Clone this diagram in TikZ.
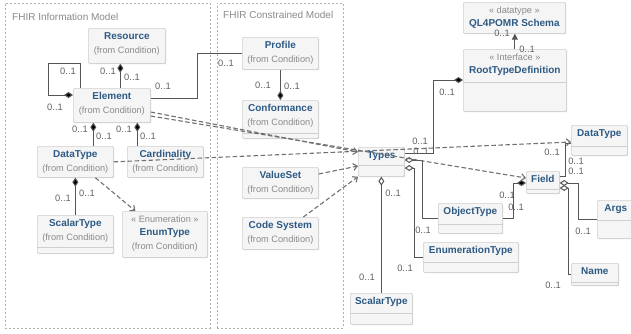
\documentclass[tikz,border=0pt]{standalone}
\usepackage{fontspec}
\setmainfont{Liberation Sans}
\usetikzlibrary{arrows.meta,shadows,calc}
\definecolor{tblue}{HTML}{2D5A84}
\definecolor{subgray}{HTML}{8A8A8A}
\definecolor{labgray}{HTML}{606060}
\definecolor{boxline}{HTML}{CFCFCF}
\definecolor{boxfill}{HTML}{F5F5F5}
\definecolor{pkgline}{HTML}{B0B0B0}
\definecolor{lnk}{HTML}{555555}
\definecolor{dlnk}{HTML}{707070}
\newcommand\tit[1]{{\fontsize{10}{13.5}\selectfont\bfseries\color{tblue}#1}}
\newcommand\frm{{\color{subgray}(from Condition)}}
\newcommand\stereo[1]{{\color{subgray}« #1 »}}
\tikzset{
  ubox/.style={draw=boxline, fill=boxfill, rounded corners=1.2pt, line width=0.7pt,
    drop shadow={shadow xshift=0.8pt, shadow yshift=-0.8pt, opacity=0.18, fill=black}, inner sep=0pt},
  utext/.style={align=center, inner sep=0pt, font=\fontsize{9.2}{13.5}\selectfont},
  divline/.style={draw=boxline, line width=0.7pt},
  pkg/.style={draw=pkgline, dash pattern=on 2pt off 2pt, line width=0.7pt},
  pkgtitle/.style={anchor=west, inner sep=0pt, text=subgray, font=\fontsize{10}{12}\selectfont},
  lab/.style={inner sep=0pt, text=labgray, font=\fontsize{9.3}{10}\selectfont},
  assoc/.style={draw=lnk, line width=1pt},
  dep/.style={draw=dlnk, line width=1.1pt, dash pattern=on 4.5pt off 2.5pt, -{Straight Barb[length=4pt,width=7pt]}},
  fdia/.style={{Diamond[length=9pt,width=6pt,fill=black]}-},
  odia/.style={{Diamond[open,length=9pt,width=6pt,fill=white]}-},
}
\newcommand\umlbox[6]{%
  \node[ubox, anchor=north west, minimum width=#4pt, minimum height=#5pt] (#1) at (#2,#3) {};
  \node[utext, anchor=north] (#1-t) at ([yshift=-4.5pt]#1.north) {#6};}
\newcommand\umldiv[2]{\draw[divline] ([yshift=-#2pt]#1.north west) -- ([yshift=-#2pt]#1.north east);}
\begin{document}
\begin{tikzpicture}[x=1pt,y=-1pt]
\useasboundingbox (0,0) rectangle (631,333);
\clip (0,0) rectangle (631,333);
\fill[white] (0,0) rectangle (631,333);

% packages
\node[pkg, anchor=north west, minimum width=205pt, minimum height=325pt, inner sep=0pt] (pinfo) at (5,3) {};
\node[pkgtitle] (pinfo-t) at (12,17) {FHIR Information Model};
\node[pkg, anchor=north west, minimum width=126pt, minimum height=325pt, inner sep=0pt] (pcons) at (217,3) {};
\node[pkgtitle] (pcons-t) at (223,15) {FHIR Constrained Model};

% boxes
\umlbox{res}{88}{28}{77}{35}{\tit{Resource}\\\frm}
\umlbox{elem}{73}{88}{77}{34}{\tit{Element}\\\frm}
\umlbox{dtL}{37}{146}{76}{31}{\tit{DataType}\\\frm}
\umlbox{card}{127}{146}{76}{31}{\tit{Cardinality}\\\frm}
\umlbox{scalL}{37}{215}{76}{38}{\tit{ScalarType}\\\frm}
\umldiv{scalL}{32}
\umlbox{enum}{122}{211}{85}{46}{\stereo{Enumeration}\\\tit{EnumType}\\\frm}
\umlbox{prof}{242}{37}{76}{32}{\tit{Profile}\\\frm}
\umlbox{conf}{242}{100}{76}{38}{\tit{Conformance}\\\frm}
\umldiv{conf}{33}
\umlbox{vs}{242}{167}{76}{31}{\tit{ValueSet}\\\frm}
\umlbox{cs}{242}{217}{76}{32}{\tit{Code System}\\\frm}
\umlbox{types}{358}{147}{46}{29}{\tit{Types}}
\umldiv{types}{18}
\umlbox{scalR}{350}{293}{62}{31}{\tit{ScalarType}}
\umldiv{scalR}{20}
\umlbox{ql}{463}{2}{102}{31}{\stereo{datatype}\\\tit{QL4POMR Schema}}
\umlbox{root}{463}{49}{103}{62}{\stereo{Interface}\\\tit{RootTypeDefinition}}
\umldiv{root}{33}
\umlbox{dtR}{571}{125}{56}{30}{\tit{DataType}}
\umldiv{dtR}{21}
\umlbox{field}{526}{171}{33}{22}{\tit{Field}}
\umldiv{field}{18}
\umlbox{obj}{438}{203}{64}{30}{\tit{ObjectType}}
\umldiv{obj}{21}
\umlbox{enumT}{423}{242}{95}{30}{\tit{EnumerationType}}
\umldiv{enumT}{20}
\umlbox{args}{597}{200}{45}{38}{\hspace*{-8pt}\tit{Args}}
\umldiv{args}{20}
\umlbox{name}{571}{263}{47}{22}{\tit{Name}}
\umldiv{name}{19}

% associations
\draw[assoc, fdia] ([yshift=-7pt]elem.north west) -- ++(-25,0) -- ++(0,-32) -| ([xshift=7pt]elem.north west);
\draw[assoc, fdia] ([xshift=-6.5pt]res.south) -- ([xshift=-6.5pt]res.south |- elem.north);
\draw[assoc] ([yshift=-10pt]elem.north east) -| ([xshift=-45pt]prof.west) -- (prof.west);
\draw[assoc, fdia] (conf.north) -- (prof.south);
\draw[assoc, fdia] ([xshift=-18.5pt]elem.south) -- ([xshift=-18.5pt]elem.south |- dtL.north);
\draw[assoc, fdia] ([xshift=25.5pt]elem.south) -- ([xshift=25.5pt]elem.south |- card.north);
\draw[assoc, fdia] (dtL.south) -- (scalL.north);
\draw[assoc, odia] (types.south) -- (types.south |- scalR.north);
\draw[assoc, fdia] ([yshift=-31pt]root.north west) -- ++(-30,0) |- ([yshift=-6pt]types.north east);
\draw[assoc, odia] ([yshift=-13pt]types.north east) -- ++(18,0) |- (obj.west);
\draw[assoc, odia] ([yshift=-21pt]types.north east) -- ++(10,0) |- (enumT.west);
\draw[assoc, -{Triangle[length=6pt,width=6pt]}] (root.north) -- (root.north |- ql.south);
\draw[assoc, fdia] ([yshift=-12pt]field.north west) -- ++(-13,0) |- (obj.east);
\draw[assoc] ([yshift=-5pt]field.north east) -| ([xshift=-6pt,yshift=-18pt]dtR.north west) -- ([yshift=-18pt]dtR.north west);
\draw[assoc, odia] ([yshift=-12pt]field.north east) -- ++(19,0) |- (args.west);
\draw[assoc, odia] ([yshift=-17pt]field.north east) -- ++(9,0) |- (name.west);

% dependencies
\draw[dep] ([xshift=20pt]dtL.south) -- ([xshift=-29.5pt]enum.north);
\draw[dep] (dtL.east) -- ([yshift=-17pt]dtR.north west);
\draw[dep] ([yshift=-24pt]elem.north east) -- ([yshift=-5pt]types.north west);
\draw[dep] ([yshift=-28pt]elem.north east) -- ([yshift=-7pt]field.north west);
\draw[dep] ([yshift=-7pt]vs.north east) -- ([yshift=-19pt]types.north west);
\draw[dep] ([xshift=23pt]cs.north) -- (types.south west);

% multiplicities
\node[lab] (m1) at (68,71) {0..1};
\node[lab] (m2) at (55,107) {0..1};
\node[lab] (m3) at (108,71) {0..1};
\node[lab] (m4) at (132,77) {0..1};
\node[lab] (m5) at (163,86) {0..1};
\node[lab] (m6) at (226,63) {0..1};
\node[lab] (m7) at (80,129) {0..1};
\node[lab] (m8) at (104,136) {0..1};
\node[lab] (m9) at (124,129) {0..1};
\node[lab] (m10) at (148,136) {0..1};
\node[lab] (m11) at (63,198) {0..1};
\node[lab] (m12) at (87,193) {0..1};
\node[lab] (m13) at (263,85) {0..1};
\node[lab] (m14) at (292,86) {0..1};
\node[lab] (m15) at (393,193) {0..1};
\node[lab] (m16) at (367,277) {0..1};
\node[lab] (m17) at (447,92) {0..1};
\node[lab] (m18) at (420,141) {0..1};
\node[lab] (m19) at (421,151) {0..1};
\node[lab] (m20) at (423,230) {0..1};
\node[lab] (m21) at (405,268) {0..1};
\node[lab] (m22) at (502,33) {0..1};
\node[lab] (m23) at (527,49) {0..1};
\node[lab] (m24) at (552,152) {0..1};
\node[lab] (m25) at (576,161) {0..1};
\node[lab] (m26) at (576,171) {0..1};
\node[lab] (m27) at (507,195) {0..1};
\node[lab] (m28) at (516,207) {0..1};
\node[lab] (m29) at (583,231) {0..1};
\node[lab] (m30) at (553,285) {0..1};
\end{tikzpicture}
\end{document}
